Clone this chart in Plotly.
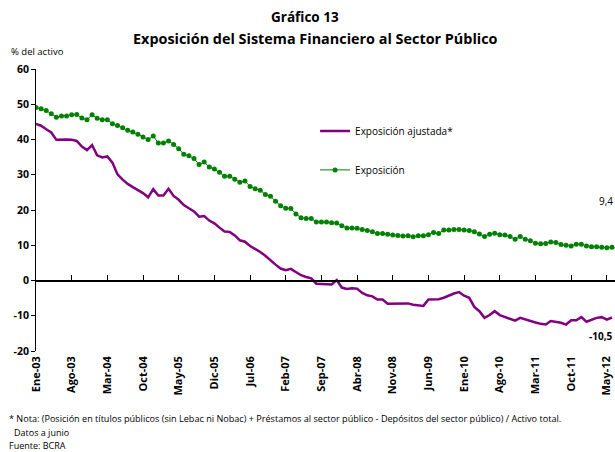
import plotly.graph_objects as go

month_names = ["Ene", "Feb", "Mar", "Abr", "May", "Jun", "Jul", "Ago", "Sep", "Oct", "Nov", "Dic"]
months = [f"{month_names[i % 12]}-{(3 + i // 12):02d}" for i in range(114)]  # Ene-03 .. Jun-12

exposicion = [49.1, 48.7, 48.2, 47.3, 46.3, 46.7, 46.7, 47.0, 47.1, 46.1,
              45.6, 47.0, 46.0, 45.6, 45.6, 44.5, 44.0, 43.3, 42.6, 42.1,
              41.5, 40.7, 40.0, 41.0, 39.0, 39.0, 39.6, 38.6, 37.4, 35.8,
              35.4, 34.6, 32.9, 33.6, 32.2, 31.6, 30.7, 29.6, 29.6, 28.7,
              27.9, 28.2, 26.7, 26.0, 25.6, 24.4, 23.9, 22.5, 21.2, 20.5,
              20.4, 18.9, 17.8, 17.6, 17.6, 16.6, 16.6, 16.6, 16.4, 16.3,
              15.5, 14.9, 14.9, 14.8, 14.5, 14.2, 13.8, 13.3, 13.3, 13.1,
              12.9, 12.8, 12.6, 12.7, 12.4, 12.7, 12.7, 13.0, 13.6, 13.3,
              14.3, 14.3, 14.5, 14.5, 14.3, 14.2, 13.8, 13.2, 12.5, 13.1,
              13.4, 13.0, 12.9, 12.5, 11.7, 12.5, 11.7, 11.3, 10.6, 10.4,
              10.5, 10.9, 10.8, 10.2, 10.0, 9.8, 10.3, 10.3, 9.8, 9.6,
              9.6, 9.4, 9.3, 9.4]

exposicion_ajustada = [44.4, 43.9, 42.9, 42.0, 39.9, 40.0, 40.0, 39.9, 39.6, 38.0,
                       37.0, 38.4, 35.5, 34.9, 35.2, 33.4, 30.1, 28.6, 27.4, 26.5,
                       25.7, 24.8, 23.6, 25.9, 24.1, 24.1, 26.0, 24.0, 22.9, 21.4,
                       20.5, 19.6, 18.1, 18.3, 17.0, 16.2, 15.0, 13.9, 13.8, 12.8,
                       11.4, 11.0, 9.8, 9.0, 8.1, 7.0, 5.7, 4.5, 3.4, 2.9,
                       3.3, 2.4, 1.5, 1.0, 0.6, -0.9, -1.0, -0.9, -1.1, 0.1,
                       -2.0, -2.4, -2.2, -2.3, -3.5, -4.2, -4.5, -5.4, -5.4, -6.6,
                       -6.6, -6.5, -6.4, -6.5, -6.9, -7.0, -7.2, -5.4, -5.3, -5.3,
                       -4.9, -4.2, -3.7, -3.3, -4.3, -4.9, -7.5, -8.7, -10.6, -9.8,
                       -8.7, -9.8, -10.4, -10.8, -11.4, -10.6, -11.1, -11.6, -11.9, -12.3,
                       -12.5, -11.5, -11.7, -12.0, -12.5, -11.3, -11.3, -10.4, -11.7, -11.1,
                       -10.6, -10.4, -11.1, -10.5]

tick_labels = ["Ene-03", "Ago-03", "Mar-04", "Oct-04", "May-05", "Dic-05", "Jul-06",
               "Feb-07", "Sep-07", "Abr-08", "Nov-08", "Jun-09", "Ene-10", "Ago-10",
               "Mar-11", "Oct-11", "May-12"]
y_ticks = [-20, -10, 0, 10, 20, 30, 40, 50, 60]

FONT = "Open Sans"
PURPLE = "#800080"
GREEN = "#008000"

x = list(range(len(months)))
tick_pos = [months.index(t) for t in tick_labels]

fig = go.Figure()
fig.add_trace(go.Scatter(
    x=x, y=exposicion_ajustada, mode="lines", name="Exposición ajustada*",
    line=dict(color=PURPLE, width=2.5), legendgroup="a"))
fig.add_trace(go.Scatter(
    x=x, y=exposicion, mode="lines+markers", name="Exposición",
    line=dict(color=GREEN, width=1), marker=dict(color=GREEN, size=5, symbol="circle"),
    legendgroup="b"))
# zero line axis with upward ticks
fig.add_trace(go.Scatter(x=[x[0], x[-1]], y=[None, None], xaxis="x2", showlegend=False,
                         hoverinfo="skip"))

fig.update_layout(
    width=615, height=452,
    margin=dict(l=36, r=0, t=69, b=101),
    paper_bgcolor="white", plot_bgcolor="white",
    font=dict(family=FONT, color="#000000", size=10),
    showlegend=True,
    legend=dict(x=0.482, y=0.832, xanchor="left", yanchor="top",
                font=dict(family=FONT, size=10), tracegroupgap=20,
                bgcolor="rgba(0,0,0,0)", itemwidth=30),
    xaxis=dict(range=[0, 113.6], tickmode="array", tickvals=tick_pos,
               ticktext=[f"<b>{t}</b>" for t in tick_labels],
               tickangle=-90, showline=False, showgrid=False, zeroline=False,
               ticks="", tickfont=dict(family=FONT, size=11, color="#000"),
               ticklabelstandoff=2),
    xaxis2=dict(range=[0, 113.6], overlaying="x", anchor="free", position=0.25,
                side="bottom", showline=True, linecolor="#000", linewidth=1.5,
                ticks="inside", ticklen=5, tickcolor="#000", tickmode="array",
                tickvals=tick_pos, showticklabels=False, showgrid=False, zeroline=False),
    yaxis=dict(range=[-20, 60], tickmode="array", tickvals=y_ticks,
               ticktext=[f"<b>{v}</b>" for v in y_ticks], showline=True, linecolor="#000",
               linewidth=1, ticks="outside", ticklen=4, tickcolor="#000",
               showgrid=False, zeroline=False,
               tickfont=dict(family=FONT, size=10.5, color="#000")),
)

annotations = [
    dict(text="<b>Gráfico 13</b>", xref="paper", yref="paper", x=(305 - 36) / 579,
         y=1 + (69 - 17) / 282, xanchor="center", yanchor="middle", showarrow=False,
         font=dict(family=FONT, size=13.5)),
    dict(text="<b>Exposición del Sistema Financiero al Sector Público</b>", xref="paper",
         yref="paper", x=(315 - 36) / 579, y=1 + (69 - 39) / 282, xanchor="center",
         yanchor="middle", showarrow=False, font=dict(family=FONT, size=14.4)),
    dict(text="% del activo", xref="paper", yref="paper", x=(9 - 36) / 579,
         y=1 + (69 - 52) / 282, xanchor="left", yanchor="middle", showarrow=False,
         font=dict(family=FONT, size=9.5)),
    dict(text="9,4", x=x[-1], y=exposicion[-1], xanchor="right", yanchor="middle",
         xshift=3, yshift=46, showarrow=False, font=dict(family=FONT, size=10)),
    dict(text="<b>-10,5</b>", x=x[-1], y=exposicion_ajustada[-1], xanchor="right",
         yanchor="middle", xshift=3, yshift=-18, showarrow=False,
         font=dict(family=FONT, size=10)),
    dict(text="* Nota: (Posición en títulos públicos (sin Lebac ni Nobac) + Préstamos al sector público - Depósitos del sector público) / Activo total.",
         xref="paper", yref="paper", x=(7 - 36) / 579, y=(351 - 418) / 282,
         xanchor="left", yanchor="middle", showarrow=False, font=dict(family=FONT, size=9.1)),
    dict(text="Datos a junio", xref="paper", yref="paper", x=(12 - 36) / 579,
         y=(351 - 433) / 282, xanchor="left", yanchor="middle", showarrow=False,
         font=dict(family=FONT, size=9)),
    dict(text="Fuente: BCRA", xref="paper", yref="paper", x=(7 - 36) / 579,
         y=(351 - 445) / 282, xanchor="left", yanchor="middle", showarrow=False,
         font=dict(family=FONT, size=9)),
]
fig.update_layout(annotations=annotations)

fig.write_html("out.html", config={"displayModeBar": False},
               post_script="document.body.style.margin='0';document.body.style.overflow='hidden';")
